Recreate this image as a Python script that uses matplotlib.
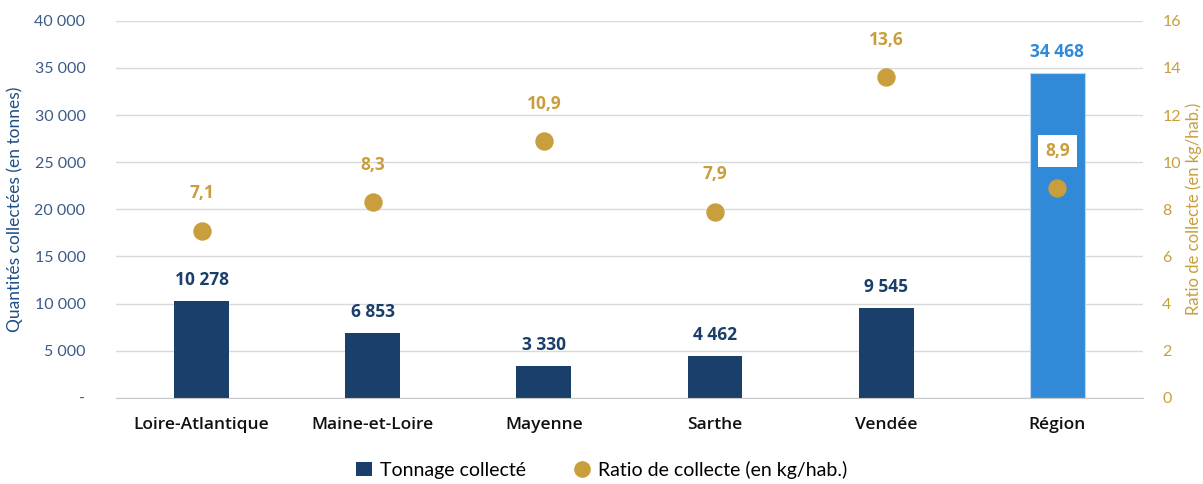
import matplotlib.pyplot as plt
from matplotlib.lines import Line2D
from matplotlib.patches import Patch

# ========================
# DATA
# ========================
categories = ["Loire-Atlantique", "Maine-et-Loire", "Mayenne", "Sarthe", "Vendée", "Région"]
tonnage = [10278, 6853, 3330, 4462, 9545, 34468]
ratio = [7.1, 8.3, 10.9, 7.9, 13.6, 8.9]
left_ticks = [0, 5000, 10000, 15000, 20000, 25000, 30000, 35000, 40000]
left_tick_labels = ["-", "5 000", "10 000", "15 000", "20 000", "25 000", "30 000", "35 000", "40 000"]
right_ticks = [0, 2, 4, 6, 8, 10, 12, 14, 16]

NAVY = "#1a3f6b"
BLUE = "#308ad8"
GOLD = "#c99e3c"
NAVY_TXT = "#3b5b86"

plt.rcParams["font.family"] = ["Lato", "DejaVu Sans"]
BOLD_FAMILY = ["Open Sans", "DejaVu Sans"]


def fmt_thousands(v):
    return f"{v:,}".replace(",", " ")


# ========================
# PLOT
# ========================
fig = plt.figure(figsize=(12.03, 4.84), dpi=100)
ax1 = fig.add_axes([0.0964, 0.178, 0.8536, 0.779])
ax2 = ax1.twinx()

x = list(range(len(categories)))
colors = [NAVY] * (len(categories) - 1) + [BLUE]
ax1.bar(x, tonnage, width=0.32, color=colors, edgecolor=["none"] * 5 + ["#bcd6ef"],
        linewidth=0.8, zorder=2)

for xi, v, c in zip(x, tonnage, colors):
    ax1.text(xi, v + 1300, fmt_thousands(v), ha="center", va="bottom",
             fontsize=12.5, fontweight="bold", family=BOLD_FAMILY, color=c, zorder=5)

ax1.set_xlim(-0.5, len(categories) - 0.5)
ax1.set_ylim(0, 40000)
ax1.set_yticks(left_ticks)
ax1.set_yticklabels(left_tick_labels)
ax1.tick_params(axis="y", length=0, pad=22, labelsize=11.5, labelcolor=NAVY_TXT)
ax1.tick_params(axis="x", length=0, pad=14, labelsize=12.5)
ax1.set_xticks(x)
ax1.set_xticklabels(categories, color="#111111", fontweight="semibold", family=BOLD_FAMILY)
ax1.grid(axis="y", color="#d9d9d9", linewidth=1, zorder=0)
ax1.set_axisbelow(True)
ax1.set_ylabel("Quantités collectées (en tonnes)", color="#1f4f86", fontsize=12.5,
               labelpad=8)
for s in ["top", "right", "left"]:
    ax1.spines[s].set_visible(False)
ax1.spines["bottom"].set_color("#c8c8c8")

ax2.scatter(x, ratio, s=150, color=GOLD, zorder=4)
ax2.set_ylim(0, 16)
ax2.set_yticks(right_ticks)
ax2.tick_params(axis="y", length=0, pad=14, labelsize=11.5, labelcolor=GOLD)
ax2.set_ylabel("Ratio de collecte (en kg/hab.)", color=GOLD, fontsize=12, labelpad=3)
for s in ["top", "right", "left", "bottom"]:
    ax2.spines[s].set_visible(False)

for xi, r in zip(x, ratio):
    label = f"{r:.1f}".replace(".", ",")
    box = None
    if xi == len(categories) - 1:
        box = dict(facecolor="white", edgecolor="none", pad=5)
    ax2.text(xi, r + 1.2, label, ha="center", va="bottom", fontsize=12.5,
             fontweight="bold", family=BOLD_FAMILY, color=GOLD, bbox=box, zorder=6)

handles = [Patch(facecolor=NAVY, label="Tonnage collecté"),
           Line2D([], [], marker="o", linestyle="none", markersize=11,
                  color=GOLD, label="Ratio de collecte (en kg/hab.)")]
fig.legend(handles=handles, loc="lower center", bbox_to_anchor=(0.5, -0.025), ncol=2,
           frameon=False, fontsize=14, handlelength=0.8, handletextpad=0.4,
           columnspacing=2.5)

fig.savefig("out.png", dpi=100)
